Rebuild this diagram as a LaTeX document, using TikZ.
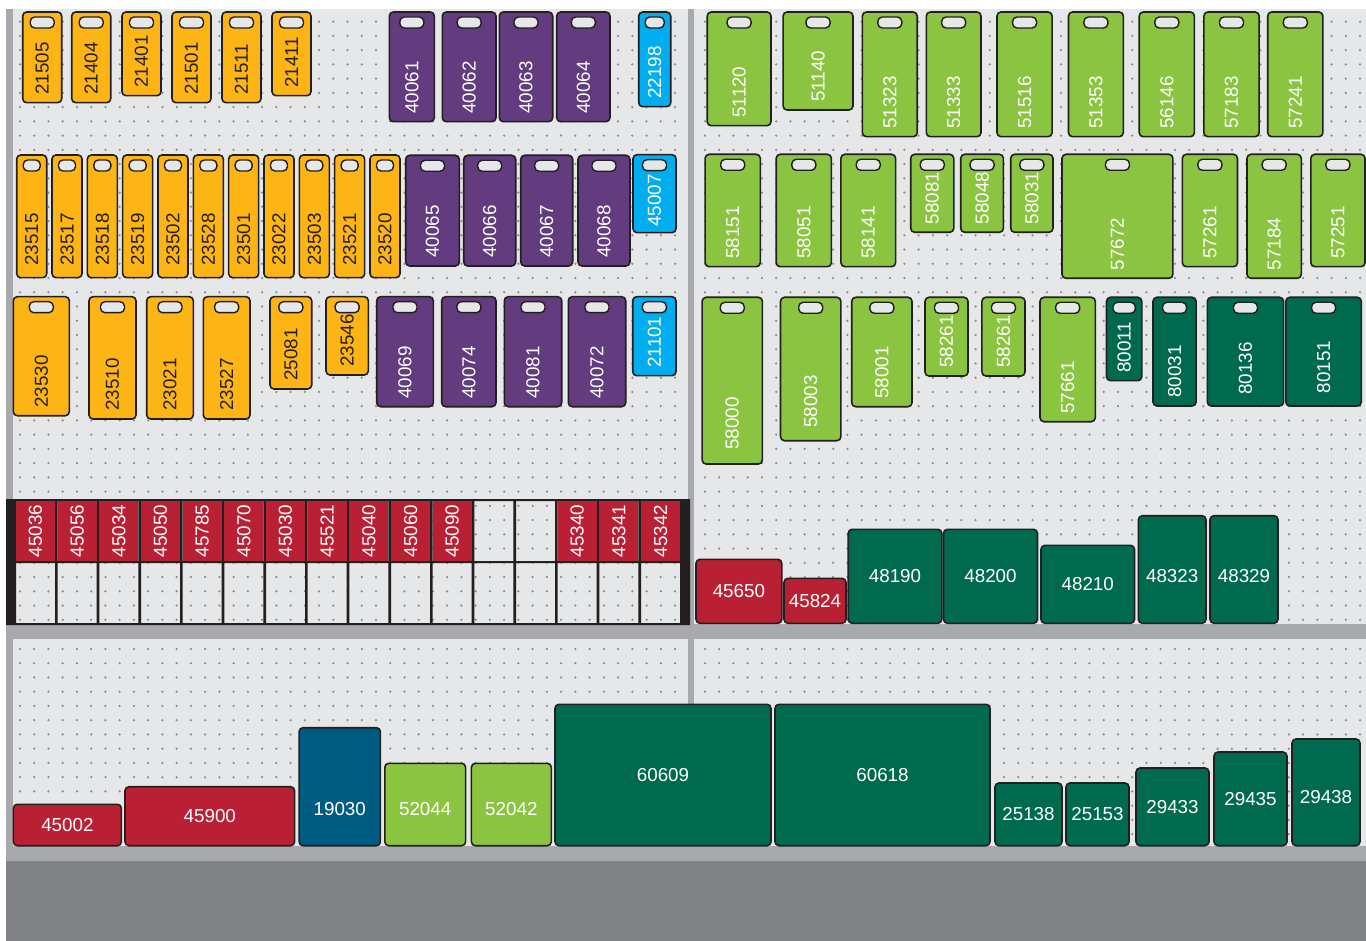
\documentclass[tikz,border=0pt]{standalone}
\usepackage{fontspec}
\setmainfont{Liberation Sans}
\usepackage{xcolor}
\usepackage{tikz}
\usetikzlibrary{calc}

\definecolor{board}{HTML}{E6E7E8}
\definecolor{pegdot}{HTML}{8A8C8F}
\definecolor{rail}{HTML}{A7A9AC}
\definecolor{floorgrey}{HTML}{808285}
\definecolor{ink}{HTML}{231F20}
\definecolor{tagorange}{HTML}{FDB515}
\definecolor{tagpurple}{HTML}{633B7F}
\definecolor{tagcyan}{HTML}{00AEEF}
\definecolor{taggreen}{HTML}{8AC441}
\definecolor{tagforest}{HTML}{006A4E}
\definecolor{tagred}{HTML}{BA2033}
\definecolor{tagnavy}{HTML}{005B81}

% hanging tag: [label offset]{name}{x1}{y1}{x2}{y2}{style}{label}
\newcommand{\hangtag}[8][8]{%
  \node[tagbox, #7, minimum width={(#5)-(#3)}, minimum height={(#6)-(#4)}] (#2) at ({((#3)+(#5))/2},{((#4)+(#6))/2}) {};
  \node[slot, minimum width={min(24,(#5)-(#3)-13)}] (#2-h) at ([yshift=-10.5pt]#2.north) {};
  \node[taglabel, #7, fill=none] (#2-t) at ([yshift=#1pt]#2.south) {#8};
}
% flat box: [label shift]{name}{x1}{y1}{x2}{y2}{style}{label}
\newcommand{\flatbox}[8][0]{%
  \node[tagbox, #7, minimum width={(#5)-(#3)}, minimum height={(#6)-(#4)}] (#2) at ({((#3)+(#5))/2},{((#4)+(#6))/2}) {};
  \node[flatlabel] (#2-t) at ([yshift=#1pt]#2.center) {#8};
}

\begin{document}
\begin{tikzpicture}[x=1pt, y=-1pt,
    tagbox/.style={draw=ink, line width=1.6pt, rounded corners=4pt, inner sep=0pt, outer sep=0pt},
    slot/.style={draw=ink, line width=1.4pt, fill=board, rounded corners=4.5pt, minimum height=11pt, inner sep=0pt, outer sep=0pt},
    taglabel/.style={rotate=90, anchor=west, inner sep=0pt, font=\fontsize{18.8}{20}\selectfont},
    flatlabel/.style={text=white, inner sep=0pt, font=\fontsize{18.8}{20}\selectfont},
    orange tag/.style={fill=tagorange, text=ink},
    purple tag/.style={fill=tagpurple, text=white},
    cyan tag/.style={fill=tagcyan, text=white},
    green tag/.style={fill=taggreen, text=white},
    forest tag/.style={fill=tagforest, text=white},
    red tag/.style={fill=tagred, text=white},
    navy tag/.style={fill=tagnavy, text=white},
    rackcell/.style={fill=tagred, text=white, rotate=90, minimum width=60pt, minimum height=39pt, inner sep=0pt, font=\fontsize{18.8}{20}\selectfont},
    dotrow/.style={draw=pegdot, line width=2.5pt, line cap=round, dash pattern=on 0pt off 14.24pt}
]
    \useasboundingbox (0,0) rectangle (1366,941);

    % Frame and boards
    \fill[white] (0,0) rectangle (1366,941);
    \fill[rail] (6,9) rectangle (1366,941);
    \fill[board] (13,9) rectangle (688,625);
    \fill[board] (694,9) rectangle (1366,624);
    \fill[board] (13,639) rectangle (688,846);
    \fill[board] (694,639) rectangle (1366,846);
    \fill[floorgrey] (6,861) rectangle (1366,941);

    % Peg holes
    \foreach \k in {0,...,42}
        \draw[dotrow] (20,{21.7+\k*14.24}) -- (676,{21.7+\k*14.24}) (705,{21.7+\k*14.24}) -- (1362,{21.7+\k*14.24});
    \foreach \k in {0,...,13}
        \draw[dotrow] (20,{649+\k*14.24}) -- (676,{649+\k*14.24}) (705,{649+\k*14.24}) -- (1362,{649+\k*14.24});

    % Bin rack
    \fill[ink, even odd rule] (6,499) rectangle (690,625)
        \foreach \i in {0,...,15} {({16+\i*41.67},501) rectangle ++(39,60) ({16+\i*41.67},563) rectangle ++(39,60)};
    \foreach \i/\lab in {0/45036,1/45056,2/45034,3/45050,4/45785,5/45070,6/45030,7/45521,8/45040,9/45060,10/45090,13/45340,14/45341,15/45342}
        \node[rackcell] (r\lab) at ({35.5+\i*41.67},531) {\lab};

    % Left board, row 1
    \hangtag{t21505}{22.7}{12}{61.7}{102.7}{orange tag}{21505}
    \hangtag{t21404}{71.7}{12}{110.7}{102.7}{orange tag}{21404}
    \hangtag{t21401}{122}{12}{161}{95.7}{orange tag}{21401}
    \hangtag{t21501}{172}{12}{211}{102.7}{orange tag}{21501}
    \hangtag{t21511}{222}{12}{261}{102.7}{orange tag}{21511}
    \hangtag{t21411}{272}{12}{311}{95.7}{orange tag}{21411}
    \hangtag{t40061}{389.3}{12}{434.3}{121.7}{purple tag}{40061}
    \hangtag{t40062}{442.3}{12}{496}{121.7}{purple tag}{40062}
    \hangtag{t40063}{499.3}{12}{552.7}{121.7}{purple tag}{40063}
    \hangtag{t40064}{556.7}{12}{610}{121.7}{purple tag}{40064}
    \hangtag{t22198}{638.7}{12}{670.7}{106.7}{cyan tag}{22198}

    % Left board, row 2
    \foreach \lab [count=\i from 0] in {23515,23517,23518,23519,23502,23528,23501,23022,23503,23521,23520}
        {\hangtag[12]{t\lab}{16.7+\i*35.33}{155}{46.7+\i*35.33}{277.7}{orange tag}{\lab}}
    \hangtag{t40065}{405.7}{155.3}{459.3}{266}{purple tag}{40065}
    \hangtag{t40066}{463.7}{155.3}{515.7}{266}{purple tag}{40066}
    \hangtag{t40067}{520.7}{155.3}{572.7}{266}{purple tag}{40067}
    \hangtag{t40068}{578}{155.3}{630}{266}{purple tag}{40068}
    \hangtag[6]{t45007}{633}{154.7}{676}{232.7}{cyan tag}{45007}

    % Left board, row 3
    \hangtag{t23530}{13.3}{296.7}{69.3}{415.7}{orange tag}{23530}
    \hangtag{t23510}{89}{296.7}{136}{419}{orange tag}{23510}
    \hangtag{t23021}{146.7}{296.7}{193.3}{419}{orange tag}{23021}
    \hangtag{t23527}{203.3}{296.7}{250}{419}{orange tag}{23527}
    \hangtag{t25081}{270}{296.7}{311.7}{389}{orange tag}{25081}
    \hangtag{t23546}{326}{296.7}{368.3}{375}{orange tag}{23546}
    \hangtag{t40069}{376.7}{296.7}{433.3}{406.7}{purple tag}{40069}
    \hangtag{t40074}{441.7}{296.7}{496}{406.7}{purple tag}{40074}
    \hangtag{t40081}{504.3}{296.7}{561.7}{406.7}{purple tag}{40081}
    \hangtag{t40072}{568.3}{296.7}{625.7}{406.7}{purple tag}{40072}
    \hangtag{t21101}{632.7}{296.7}{676}{375.7}{cyan tag}{21101}

    % Right board, row 1
    \hangtag{t51120}{707.2}{12}{771}{125.7}{green tag}{51120}
    \hangtag{t51140}{783.1}{12}{853}{110}{green tag}{51140}
    \hangtag{t51323}{862.4}{12}{917.2}{136.7}{green tag}{51323}
    \hangtag{t51333}{926.3}{12}{981}{136.7}{green tag}{51333}
    \hangtag{t51516}{997}{12}{1052.1}{136.7}{green tag}{51516}
    \hangtag{t51353}{1068.5}{12}{1123.3}{136.7}{green tag}{51353}
    \hangtag{t56146}{1139.2}{12}{1194.4}{136.7}{green tag}{56146}
    \hangtag{t57183}{1203.9}{12}{1259.1}{136.7}{green tag}{57183}
    \hangtag{t57241}{1267.7}{12}{1322.9}{136.7}{green tag}{57241}

    % Right board, row 2
    \hangtag{t58151}{705.1}{154.3}{760.3}{266.7}{green tag}{58151}
    \hangtag{t58051}{776.2}{154.3}{831.4}{266.7}{green tag}{58051}
    \hangtag{t58141}{840.9}{154.3}{895.6}{266.7}{green tag}{58141}
    \hangtag{t58081}{910.7}{154.3}{953.8}{232.3}{green tag}{58081}
    \hangtag{t58048}{960.7}{154.3}{1003.4}{232.3}{green tag}{58048}
    \hangtag{t58031}{1010.7}{154.3}{1053}{232.3}{green tag}{58031}
    \hangtag{t57672}{1062}{154.3}{1172.9}{278.3}{green tag}{57672}
    \hangtag{t57261}{1182.3}{154.3}{1237.5}{266.7}{green tag}{57261}
    \hangtag{t57184}{1247}{154.3}{1301.3}{278.3}{green tag}{57184}
    \hangtag{t57251}{1310.8}{154.3}{1365}{266.7}{green tag}{57251}

    % Right board, row 3
    \hangtag[14]{t58000}{702.1}{297.3}{762.4}{464}{green tag}{58000}
    \hangtag[13]{t58003}{780.5}{297.3}{840.9}{440.7}{green tag}{58003}
    \hangtag{t58001}{851.7}{297.3}{912}{406.7}{green tag}{58001}
    \hangtag{t58261a}{925}{297.3}{968}{376}{green tag}{58261}
    \hangtag{t58261b}{981.9}{297.3}{1025}{376}{green tag}{58261}
    \hangtag{t57661}{1040}{297.3}{1095.3}{421.7}{green tag}{57661}
    \hangtag{t80011}{1106.5}{297.3}{1141.8}{380.7}{forest tag}{80011}
    \hangtag{t80031}{1153}{297.3}{1196.1}{406}{forest tag}{80031}
    \hangtag[11]{t80136}{1207.3}{297.3}{1283.6}{406}{forest tag}{80136}
    \hangtag[12.5]{t80151}{1285.8}{297.3}{1361.3}{406}{forest tag}{80151}

    % Right board, bottom shelf
    \flatbox{b45650}{696}{559.3}{781.8}{623.3}{red tag}{45650}
    \flatbox{b45824}{784}{578.3}{846}{623.3}{red tag}{45824}
    \flatbox{b48190}{848.2}{529.3}{941.8}{623.3}{forest tag}{48190}
    \flatbox{b48200}{943.5}{529.3}{1037.5}{623.3}{forest tag}{48200}
    \flatbox{b48210}{1041}{545.3}{1134.5}{623.3}{forest tag}{48210}
    \flatbox[-6.5]{b48323}{1138.4}{515.7}{1206}{623.3}{forest tag}{48323}
    \flatbox[-6.5]{b48329}{1210}{515.7}{1278}{623.3}{forest tag}{48329}

    % Lower shelf
    \flatbox{b45002}{13.4}{804.3}{121.4}{845.7}{red tag}{45002}
    \flatbox{b45900}{125}{786.7}{294.6}{845.7}{red tag}{45900}
    \flatbox[-22.3]{b19030}{299.1}{727.7}{380.4}{845.7}{navy tag}{19030}
    \flatbox[-4.5]{b52044}{384.8}{763.3}{465.6}{845.7}{green tag}{52044}
    \flatbox[-4.5]{b52042}{471.4}{763.3}{551.3}{845.7}{green tag}{52042}
    \flatbox{b60609}{555}{704.3}{771}{845.7}{forest tag}{60609}
    \flatbox{b60618}{775}{704.3}{990}{845.7}{forest tag}{60618}
    \flatbox{b25138}{995}{783}{1062}{845.7}{forest tag}{25138}
    \flatbox{b25153}{1066}{783}{1129}{845.7}{forest tag}{25153}
    \flatbox{b29433}{1136}{768}{1209}{845.7}{forest tag}{29433}
    \flatbox{b29435}{1214}{752}{1287}{845.7}{forest tag}{29435}
    \flatbox[-5]{b29438}{1292}{739}{1360}{845.7}{forest tag}{29438}
\end{tikzpicture}
\end{document}
